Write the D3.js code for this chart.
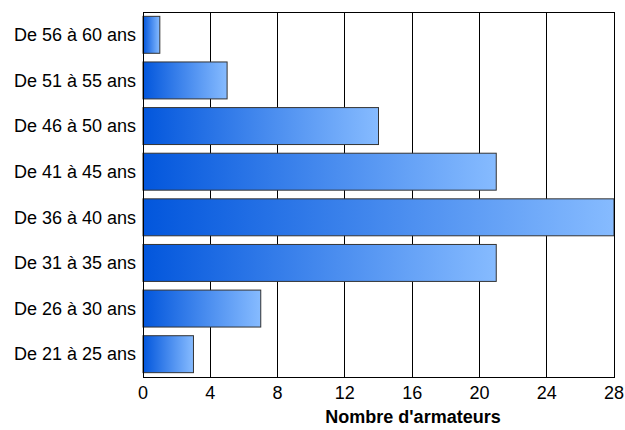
<!DOCTYPE html>
<html><head><meta charset="utf-8">
<script src="https://cdn.jsdelivr.net/npm/d3@7"></script>
<style>body{margin:0;background:#fff;} text{font-family:"Liberation Sans",Arial,sans-serif;}</style>
</head><body>
<svg id="c" width="625" height="430"></svg>
<script>
const categories = ["De 56 à 60 ans","De 51 à 55 ans","De 46 à 50 ans","De 41 à 45 ans","De 36 à 40 ans","De 31 à 35 ans","De 26 à 30 ans","De 21 à 25 ans"];
const values = [1,5,14,21,28,21,7,3];
const ticks = [0,4,8,12,16,20,24,28];
const xTitle = "Nombre d'armateurs";

const svg = d3.select("#c");
const L=143, R=614, T=12, B=377;
const x = d3.scaleLinear().domain([0,28]).range([L,R]);
const y = d3.scaleBand().domain(categories).range([T,B]).paddingInner(0.19).paddingOuter(0.095);

const defs = svg.append("defs");
const g = defs.append("linearGradient").attr("id","grad").attr("x1","0").attr("x2","1").attr("y1","0").attr("y2","0");
g.append("stop").attr("offset","0").attr("stop-color","#0256dc");
g.append("stop").attr("offset","1").attr("stop-color","#86bbff");

// grid
svg.append("g").selectAll("line").data(ticks).join("line")
  .attr("x1",d=>x(d)).attr("x2",d=>x(d)).attr("y1",T).attr("y2",B)
  .attr("stroke","#000").attr("stroke-width",1).attr("shape-rendering","crispEdges");

// bars
svg.append("g").selectAll("rect").data(values).join("rect")
  .attr("x",x(0)).attr("y",(d,i)=>y(categories[i]))
  .attr("width",d=>x(d)-x(0)).attr("height",y.bandwidth())
  .attr("fill","url(#grad)").attr("stroke","#333").attr("stroke-width",1);

// frame
svg.append("rect").attr("x",L).attr("y",T).attr("width",R-L).attr("height",B-T)
  .attr("fill","none").attr("stroke","#000").attr("stroke-width",1).attr("shape-rendering","crispEdges");

// x axis labels
svg.append("g").selectAll("text").data(ticks).join("text")
  .attr("x",d=>x(d)).attr("y",B+22).attr("text-anchor","middle")
  .attr("font-size",18).text(d=>d);

// y labels
svg.append("g").selectAll("text").data(categories).join("text")
  .attr("x",L-7).attr("y",d=>y(d)+y.bandwidth()/2).attr("dy","0.35em")
  .attr("text-anchor","end").attr("font-size",18).text(d=>d);

svg.append("text").attr("x",413).attr("y",B+46).attr("text-anchor","middle")
  .attr("font-size",18).attr("font-weight","bold").text(xTitle);
</script>
</body></html>
